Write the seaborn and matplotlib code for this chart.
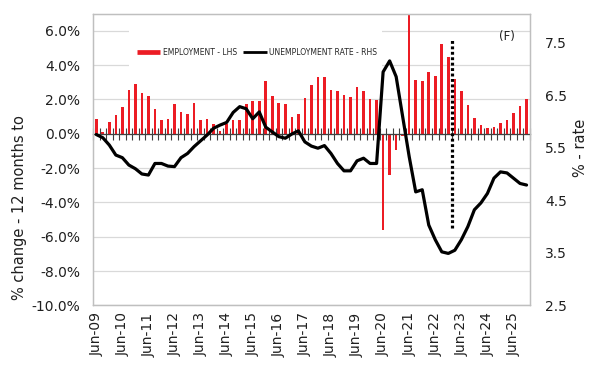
import numpy as np
import pandas as pd
import matplotlib
matplotlib.use("Agg")
from matplotlib import pyplot as plt
from matplotlib.lines import Line2D
from matplotlib.patches import Rectangle
import seaborn as sns

# employment, % change over 12 months (LHS), quarterly from Jun-09
employment = [0.87, 0.10, 0.68, 1.07, 1.57, 2.52, 2.87, 2.37, 2.17, 1.42,
              0.82, 0.87, 1.73, 1.28, 1.17, 1.77, 0.82, 0.87, 0.58, 0.14,
              0.54, 0.82, 0.82, 1.73, 1.92, 1.92, 3.09, 2.17, 1.77, 1.73,
              0.99, 1.13, 2.08, 2.82, 3.28, 3.28, 2.52, 2.47, 2.25, 2.12,
              2.72, 2.47, 2.00, 1.96, -5.58, -2.38, -0.93, -0.15, 7.60, 3.15,
              3.09, 3.59, 3.38, 5.20, 4.45, 3.18, 2.47, 1.69, 0.89, 0.49,
              0.33, 0.37, 0.60, 0.83, 1.22, 1.61, 2.00]

# unemployment rate, % (RHS)
unemployment = [5.75, 5.69, 5.55, 5.36, 5.31, 5.17, 5.10, 5.00, 4.98, 5.20,
                5.20, 5.15, 5.14, 5.31, 5.39, 5.52, 5.63, 5.74, 5.87, 5.93,
                5.98, 6.17, 6.28, 6.24, 6.05, 6.18, 5.89, 5.80, 5.71, 5.68,
                5.76, 5.82, 5.61, 5.53, 5.49, 5.54, 5.39, 5.20, 5.06, 5.06,
                5.25, 5.30, 5.20, 5.20, 6.94, 7.15, 6.85, 6.09, 5.33, 4.66,
                4.70, 4.03, 3.75, 3.52, 3.49, 3.55, 3.75, 4.00, 4.32, 4.45,
                4.63, 4.92, 5.04, 5.02, 4.92, 4.82, 4.79]

# forecast period starts here, marker spans these LHS values
forecast_from = "Mar-23"
forecast_span = [-5.5, 5.5]

lhs_ticks = [-10, -8, -6, -4, -2, 0, 2, 4, 6]
rhs_ticks = [2.5, 3.5, 4.5, 5.5, 6.5, 7.5]

quarters = list(pd.date_range("2009-06-01", periods=len(employment),
                              freq="3MS").strftime("%b-%y"))
df = pd.DataFrame({"pos": np.arange(len(quarters)), "quarter": quarters,
                   "employment": employment, "unemployment": unemployment})

RED = "#ec1c24"
GREY = "#bfbfbf"
TXT = "#1f1f1f"

sns.set_style("white")
plt.rcParams["font.family"] = ["DejaVu Sans"]

fig, ax = plt.subplots(figsize=(6, 3.87))
fig.subplots_adjust(left=0.155, right=0.883, bottom=0.2106, top=0.965)

# bars for employment growth
sns.barplot(data=df, x="pos", y="employment", native_scale=True,
            color=RED, saturation=1, width=0.4, linewidth=0, ax=ax)

# forecast marker
fx = quarters.index(forecast_from) - 0.5
ax.plot([fx, fx], forecast_span, color="black", lw=2.3,
        ls=(0, (0.9, 0.8)), dash_capstyle="butt", zorder=4)

ax.set_xlim(-0.5, len(quarters) - 0.5)
ax.set_ylim(-10, 7)
ax.set_yticks(lhs_ticks)
ax.set_yticklabels(["{:.1f}%".format(t) for t in lhs_ticks])
ax.set_axisbelow(True)
ax.yaxis.grid(True, color="#d9d9d9", lw=0.9)

jun = [i for i, q in enumerate(quarters) if q.startswith("Jun")]
ax.set_xticks(jun)
ax.set_xticklabels([quarters[i] for i in jun], rotation=90)
ax.tick_params(axis="x", length=0, pad=5, labelsize=10, colors=TXT)
ax.tick_params(axis="y", length=0, pad=9, labelsize=10, colors=TXT)
ax.set_xlabel("")
ax.set_ylabel("% change - 12 months to", fontsize=10.5, color=TXT)
ax.yaxis.set_label_coords(-0.151, 0.334)
for s in ax.spines.values():
    s.set_color(GREY)
    s.set_linewidth(0.9)

# zero axis with crossing tick marks between quarters
zero = ax.secondary_xaxis(0, transform=ax.transData)
zero.set_xticks(np.arange(-0.5, len(quarters), 1))
zero.tick_params(direction="inout", length=8, width=0.8, color="#404040",
                 labelbottom=False)
zero.spines["bottom"].set_color("#404040")
zero.spines["bottom"].set_linewidth(0.9)
zero.set_zorder(3)

# white backing for the legend
ax.add_patch(Rectangle((0.082, 0.80), 0.58, 0.165, transform=ax.transAxes,
                       facecolor="white", edgecolor="none", zorder=0.8))

# unemployment rate line on the right axis
ax2 = ax.twinx()
sns.lineplot(data=df, x="pos", y="unemployment", color="black", lw=2.3,
             ax=ax2)
ax2.set_ylim(2.5, 8.05)
ax2.set_yticks(rhs_ticks)
ax2.set_yticklabels(["{:.1f}".format(t) for t in rhs_ticks])
ax2.tick_params(axis="y", length=0, pad=11, labelsize=10, colors=TXT)
ax2.set_xlabel("")
ax2.set_ylabel("% - rate", fontsize=10.5, color=TXT)
ax2.yaxis.set_label_coords(1.098, 0.541)
for s in ax2.spines.values():
    s.set_color(GREY)
    s.set_linewidth(0.9)

handles = [Line2D([], [], color=RED, lw=3.4, solid_capstyle="butt"),
           Line2D([], [], color="black", lw=2.0, solid_capstyle="butt")]
le = ax2.legend(handles, ["EMPLOYMENT - LHS", "UNEMPLOYMENT RATE - RHS"],
                loc="center", bbox_to_anchor=(0.375, 0.868), ncol=2,
                frameon=False, prop={"size": 5.5}, handlelength=3.1,
                handletextpad=0.3, columnspacing=0.8)

ax2.text(0.947, 0.92, "(F)", transform=ax2.transAxes, ha="center",
         va="center", fontsize=8.5, color=TXT)

fig.savefig("out.png", dpi=100)
